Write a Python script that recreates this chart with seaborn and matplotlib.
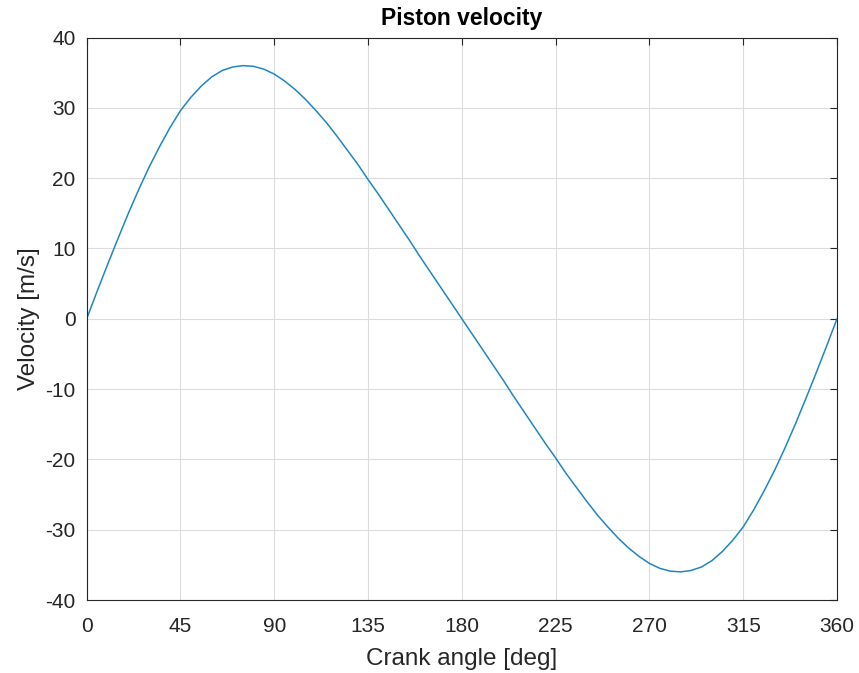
import numpy as np
import pandas as pd
import seaborn as sns
import matplotlib.pyplot as plt

# crank angle [deg] and piston velocity [m/s]
angle = [0, 5, 10, 15, 20, 25, 30, 35, 40, 45, 50, 55, 60, 65, 70, 75, 80, 85,
         90, 95, 100, 105, 110, 115, 120, 125, 130, 135, 140, 145, 150, 155, 160, 165, 170, 175,
         180, 185, 190, 195, 200, 205, 210, 215, 220, 225, 230, 235, 240, 245, 250, 255, 260, 265,
         270, 275, 280, 285, 290, 295, 300, 305, 310, 315, 320, 325, 330, 335, 340, 345, 350, 355, 360]
velocity = [0.0, 3.9, 7.7, 11.4, 15.0, 18.4, 21.6, 24.5, 27.2, 29.6, 31.5, 33.1, 34.4, 35.3, 35.8, 36.0, 35.9, 35.5,
            34.8, 33.8, 32.6, 31.2, 29.6, 27.9, 26.0, 24.0, 22.0, 19.8, 17.7, 15.5, 13.3, 11.1, 8.8, 6.6, 4.4, 2.2,
            0.0, -2.2, -4.4, -6.6, -8.8, -11.1, -13.3, -15.5, -17.7, -19.8, -22.0, -24.0, -26.0, -27.9, -29.6, -31.2, -32.6, -33.8,
            -34.8, -35.5, -35.9, -36.0, -35.8, -35.3, -34.4, -33.1, -31.5, -29.6, -27.2, -24.5, -21.6, -18.4, -15.0, -11.4, -7.7, -3.9, 0.0]

x_ticks = [0, 45, 90, 135, 180, 225, 270, 315, 360]
y_ticks = [-40, -30, -20, -10, 0, 10, 20, 30, 40]

df = pd.DataFrame({"angle": angle, "velocity": velocity})

sns.set_style("white")
plt.rcParams["font.family"] = ["Liberation Sans", "DejaVu Sans"]
plt.rcParams["axes.unicode_minus"] = False

fig = plt.figure(figsize=(8.59, 6.73), dpi=100)
ax = fig.add_axes([86.7 / 859, 73 / 673, (837 - 86.7) / 859, (600.5 - 38) / 673])

sns.lineplot(data=df, x="angle", y="velocity", color="#1f86c4", linewidth=1.1, ax=ax)

ax.set_xlim(0, 360)
ax.set_ylim(-40, 40)
ax.set_xticks(x_ticks)
ax.set_yticks(y_ticks)
ax.grid(True, color="#dcdcdc", linewidth=0.8)
ax.tick_params(direction="in", length=5, width=0.8, colors="#262626", labelsize=15,
               top=True, right=True, labeltop=False, labelright=False)
ax.tick_params(axis="x", pad=12)
ax.tick_params(axis="y", pad=8)
for side in ax.spines.values():
    side.set_color("#262626")
    side.set_linewidth(0.8)

ax.set_title("Piston velocity", fontsize=16.5, fontweight="bold", color="#000000", pad=9)
ax.set_xlabel("Crank angle [deg]", fontsize=17.5, color="#262626", labelpad=9)
ax.set_ylabel("Velocity [m/s]", fontsize=17.5, color="#262626", labelpad=4)

fig.savefig("out.png", dpi=100)
